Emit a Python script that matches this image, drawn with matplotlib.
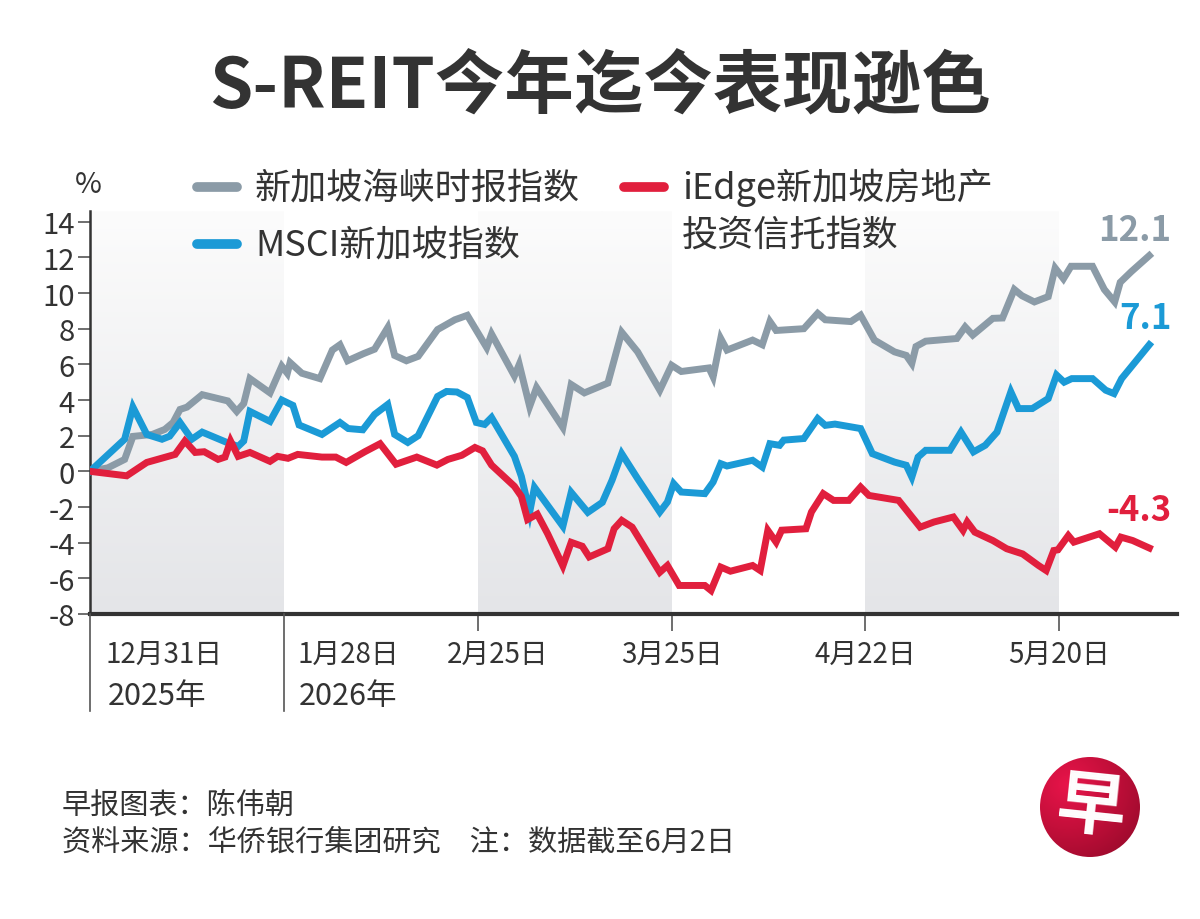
import matplotlib
matplotlib.use('Agg')
import matplotlib.pyplot as plt
import numpy as np
from matplotlib.lines import Line2D
from matplotlib.patches import Circle
from matplotlib.colors import LinearSegmentedColormap
import matplotlib.transforms as mtransforms

plt.rcParams['font.family'] = ['Noto Sans CJK SC', 'DejaVu Sans']

# ---------------- data (days since 2025-12-31, % change YTD) ----------------
sti_days = [0, 2.6, 5, 6.2, 9, 10.8, 12, 13, 14, 16.2, 19.9, 21.2, 22.2, 23.1, 26, 27.7, 28.5, 28.9,
            30.6, 33.2, 35, 36.1, 37.2, 39.5, 41.1, 43, 44, 45.7, 47.4, 50.2, 52.7, 54.5, 57.3, 58,
            61.3, 62, 63.5, 64.5, 68.3, 69.5, 71.4, 74.8, 76.8, 79.1, 82.3, 84, 85.4, 89.4, 90, 91.1,
            92, 95.7, 97.1, 98.2, 99.1, 103.1, 105.1, 106.2, 109.9, 111.3, 113.3, 116.2, 117.9, 118.7,
            119.3, 120.7, 125.2, 126.4, 127.5, 130.4, 131.8, 133.5, 134.6, 136.4, 138.4, 139.4, 140.6,
            141.7, 144.8, 146.5, 148, 148.8, 150.4, 153]
sti_vals = [0, 0.2, 0.67, 1.96, 2.07, 2.35, 2.74, 3.47, 3.6, 4.3, 3.95, 3.36, 3.8, 5.2, 4.4, 5.9, 5.5, 6.1,
            5.5, 5.2, 6.8, 7.1, 6.2, 6.6, 6.85, 8.06, 6.5, 6.2, 6.45, 7.95, 8.5, 8.75, 6.94, 7.7,
            5.35, 6.0, 3.64, 4.7, 2.46, 4.87, 4.4, 4.95, 7.8, 6.7, 4.55, 5.95, 5.6, 5.8, 5.3, 7.45,
            6.8, 7.36, 7.1, 8.4, 7.9, 8.0, 8.86, 8.5, 8.4, 8.76, 7.36, 6.7, 6.5, 6.05,
            7.0, 7.3, 7.45, 8.1, 7.64, 8.58, 8.6, 10.2, 9.85, 9.5, 9.8, 11.4, 10.8,
            11.5, 11.5, 10.2, 9.5, 10.6, 11.2, 12.1]

msci_days = [0, 5, 6.2, 8.2, 10.4, 11.5, 13, 14.7, 16.2, 19.9, 21.4, 22.2, 23.1, 26, 27.7, 29.3, 30.2,
             33.5, 36.1, 37.3, 39.4, 41.1, 43, 44, 45.9, 47.4, 50.2, 51.5, 53, 54.5, 55.8, 57, 58,
             61.3, 62.3, 63.5, 64.2, 68.3, 69.5, 71.9, 74, 75.4, 76.8, 79.1, 82.3, 83.4, 84.3, 85.4,
             88.8, 90, 91.1, 92, 95.7, 97.1, 98.2, 99.6, 100.2, 103.1, 105.1, 106.2, 107.6, 111.3,
             113, 116.2, 117.9, 118.7, 119.6, 120.7, 124.2, 125.8, 127.6, 129.3, 131, 133, 134.1,
             136.1, 138.4, 139.6, 140.7, 141.8, 144.8, 146.7, 147.9, 149, 153]
msci_vals = [0, 1.8, 3.6, 2.07, 1.8, 1.97, 2.74, 1.8, 2.2, 1.6, 1.4, 1.7, 3.36, 2.8, 4.0, 3.7, 2.6,
             2.07, 2.74, 2.4, 2.33, 3.19, 3.75, 2.07, 1.62, 2.0, 4.2, 4.48, 4.45, 4.14, 2.74, 2.63, 3.02,
             0.84, -0.28, -2.3, -0.9, -3.08, -1.18, -2.3, -1.74, -0.5, 0.99, -0.41, -2.28, -1.72, -0.69, -1.16,
             -1.25, -0.6, 0.43, 0.3, 0.62, 0.24, 1.55, 1.46, 1.75, 1.84, 2.96, 2.58, 2.65, 2.4,
             0.99, 0.52, 0.34, -0.32, 0.8, 1.18, 1.18, 2.2, 1.09, 1.46, 2.2, 4.46, 3.52,
             3.52, 4.08, 5.4, 5.0, 5.2, 5.2, 4.55, 4.36, 5.2, 7.1]

reit_days = [0, 5.3, 8.2, 12.3, 13.7, 15.2, 16.5, 18.5, 19.5, 20.3, 21.4, 23.1, 26, 27.1, 28.6, 30,
             33.5, 35.5, 37, 39.7, 41.9, 44.2, 47.2, 50.1, 51.7, 53.7, 55.6, 56.7, 58, 61.3, 62.3,
             63.2, 64.6, 66.1, 68.3, 69.5, 71.1, 72.1, 74.8, 75.7, 76.8, 78.3, 82.3, 83.4, 85.1, 88.8,
             89.7, 91.1, 92.5, 95.7, 96.8, 97.9, 99.1, 99.9, 103.4, 104.2, 105.9, 107.4, 109.6, 111.3,
             112.5, 116.8, 119.9, 121.9, 124.7, 126.1, 126.7, 127.8, 130.4, 132.4, 134.7, 137, 138.1,
             139.2, 139.8, 141.3, 142.1, 145.8, 148.1, 148.9, 150.6, 153]
reit_vals = [0, -0.25, 0.5, 0.95, 1.7, 1.06, 1.1, 0.67, 0.8, 1.7, 0.84, 1.06, 0.56, 0.84, 0.73, 0.95,
             0.8, 0.8, 0.5, 1.1, 1.55, 0.4, 0.8, 0.35, 0.67, 0.9, 1.34, 1.15, 0.35, -0.84, -1.4,
             -2.7, -2.4, -3.5, -5.3, -3.98, -4.2, -4.8, -4.34, -3.22, -2.75, -3.13, -5.66, -5.28, -6.4, -6.4,
             -6.68, -5.37, -5.6, -5.28, -5.56, -3.31, -3.97, -3.3, -3.22, -2.28, -1.25, -1.63, -1.63, -0.88,
             -1.35, -1.63, -3.13, -2.84, -2.56, -3.31, -2.84, -3.41, -3.88, -4.34, -4.63, -5.28, -5.56,
             -4.44, -4.4, -3.6, -3.97, -3.5, -4.25, -3.69, -3.88, -4.3]

series_names = ['新加坡海峡时报指数', 'MSCI新加坡指数', 'iEdge新加坡房地产\n投资信托指数']
end_labels = ['12.1', '7.1', '-4.3']
tick_days = [0, 28, 56, 84, 112, 140]
tick_labels = ['12月31日', '1月28日', '2月25日', '3月25日', '4月22日', '5月20日']
year_labels = ['2025年', '2026年']
y_ticks = list(range(-8, 15, 2))
shade_bands = [(0, 28), (56, 84), (112, 140)]

title = 'S-REIT今年迄今表现逊色'
credit1 = '早报图表：陈伟朝'
credit2 = '资料来源：华侨银行集团研究　注：数据截至6月2日'

# ---------------- styling ----------------
C_GRAY = '#8b9ba7'
C_BLUE = '#1b9ad6'
C_RED = '#e11f3d'
C_TEXT = '#333333'
C_AXIS = '#333333'

W, H = 1200, 920
fig = plt.figure(figsize=(12, 9.2), dpi=100)
fig.patch.set_facecolor('white')

def fx(px):
    return px / W

def fy(py):
    return 1 - py / H

ax = fig.add_axes([fx(90), fy(615), fx(1177) - fx(90), fy(212) - fy(615)])
XMAX, YMIN, YMAX = 157, -8, 14.6

# gradient shaded bands
band_cmap = LinearSegmentedColormap.from_list('band', ['#e4e5e8', '#fcfcfc'])
grad = np.linspace(0, 1, 256).reshape(-1, 1)
for x0, x1 in shade_bands:
    ax.imshow(grad, extent=(x0, x1, YMIN, YMAX), origin='lower', aspect='auto',
              cmap=band_cmap, zorder=0, interpolation='bilinear')

lw = 5.0
ax.plot(sti_days, sti_vals, color=C_GRAY, lw=lw, solid_joinstyle='miter', zorder=3)
ax.plot(msci_days, msci_vals, color=C_BLUE, lw=lw, solid_joinstyle='miter', zorder=4)
ax.plot(reit_days, reit_vals, color=C_RED, lw=lw, solid_joinstyle='miter', zorder=5)

ax.set_xlim(0, XMAX)
ax.set_ylim(YMIN, YMAX)
ax.set_facecolor('white')

for s in ['top', 'right']:
    ax.spines[s].set_visible(False)
ax.spines['left'].set_color(C_AXIS)
ax.spines['left'].set_linewidth(1.8)
ax.spines['bottom'].set_color(C_AXIS)
ax.spines['bottom'].set_linewidth(3)

ax.set_yticks(y_ticks)
ax.set_yticklabels([str(v) for v in y_ticks])
ax.tick_params(axis='y', length=9, width=1.2, color='#555555', labelsize=21, pad=2,
               labelcolor=C_TEXT)

ax.set_xticks(tick_days[2:])
ax.set_xticklabels([''] * len(tick_days[2:]))
ax.tick_params(axis='x', length=12, width=1.2, color='#555555')

blend = mtransforms.blended_transform_factory(ax.transData, ax.transAxes)
ax_h_px = 615 - 212
for d in tick_days[:2]:
    ax.plot([d, d], [0, -(712 - 615) / ax_h_px], transform=blend, color='#555555',
            lw=1.2, clip_on=False, zorder=6)

# x tick labels (layout offsets in pixels)
label_off_px = [15, 14, 20, 0, 0, 0]
label_ha = ['left', 'left', 'center', 'center', 'center', 'center']
date_y = -(655 - 615) / ax_h_px
for d, lab, off, ha in zip(tick_days, tick_labels, label_off_px, label_ha):
    tr = blend + mtransforms.ScaledTranslation(off / 100, 0, fig.dpi_scale_trans)
    ax.text(d, date_y, lab, transform=tr, ha=ha, va='center', fontsize=20, color=C_TEXT)
year_y = -(697 - 615) / ax_h_px
for d, lab, off in zip(tick_days[:2], year_labels, [18, 15]):
    tr = blend + mtransforms.ScaledTranslation(off / 100, 0, fig.dpi_scale_trans)
    ax.text(d, year_y, lab, transform=tr, ha='left', va='center', fontsize=22, color=C_TEXT)

# end-value labels
ends = [(sti_days[-1], sti_vals[-1], C_GRAY, 26), (msci_days[-1], msci_vals[-1], C_BLUE, 27),
        (reit_days[-1], reit_vals[-1], C_RED, 39)]
for (d, v, c, up), lab in zip(ends, end_labels):
    ax.annotate(lab, xy=(d, v), xytext=(22 * 0.72, up * 0.72), textcoords='offset points',
                ha='right', va='center', fontsize=25, fontweight='bold', color=c,
                annotation_clip=False, zorder=7)

# title, unit, legend
fig.text(0.5, fy(88), title, ha='center', va='center', fontsize=50, fontweight='bold', color=C_TEXT)
fig.text(fx(88), fy(185), '%', ha='center', va='center', fontsize=21, color=C_TEXT)

legend_items = [(C_GRAY, 193, 188, series_names[0]),
                (C_BLUE, 193, 245, series_names[1]),
                (C_RED, 620, 188, series_names[2])]
for c, x0, y0, lab in legend_items:
    fig.add_artist(Line2D([fx(x0 + 4), fx(x0 + 44)], [fy(y0), fy(y0)], color=c, lw=7,
                          solid_capstyle='round', transform=fig.transFigure))
    lines = lab.split('\n')
    for i, line in enumerate(lines):
        fig.text(fx(x0 + 62), fy(y0 + 48 * i), line, ha='left', va='center',
                 fontsize=26, color=C_TEXT)

# footer
fig.text(fx(62), fy(806), credit1, ha='left', va='center', fontsize=21, color=C_TEXT)
fig.text(fx(62), fy(843), credit2, ha='left', va='center', fontsize=21, color=C_TEXT)

# logo
lax = fig.add_axes([fx(1090 - 55), fy(808 + 55), fx(110), 110 / H])
lax.set_xlim(-1.1, 1.1)
lax.set_ylim(-1.1, 1.1)
lax.axis('off')
yy, xx = np.mgrid[-1:1:200j, -1:1:200j]
rad = np.clip(np.sqrt((xx + 0.45) ** 2 + (yy - 0.45) ** 2) / 1.8, 0, 1)
logo_cmap = LinearSegmentedColormap.from_list('logo', ['#e8144a', '#c30f3a', '#9a0a2c'])
im = lax.imshow(rad, extent=(-1, 1, -1, 1), origin='lower', cmap=logo_cmap, zorder=1)
circ = Circle((0, 0), 1.0, transform=lax.transData, facecolor='none', edgecolor='none')
lax.add_patch(circ)
im.set_clip_path(circ)
lax.text(0.02, -0.02, '早', ha='center', va='center', fontsize=50, fontweight='bold',
         color='white', rotation=-6, zorder=2)

fig.savefig('out.png', dpi=100, facecolor='white')
